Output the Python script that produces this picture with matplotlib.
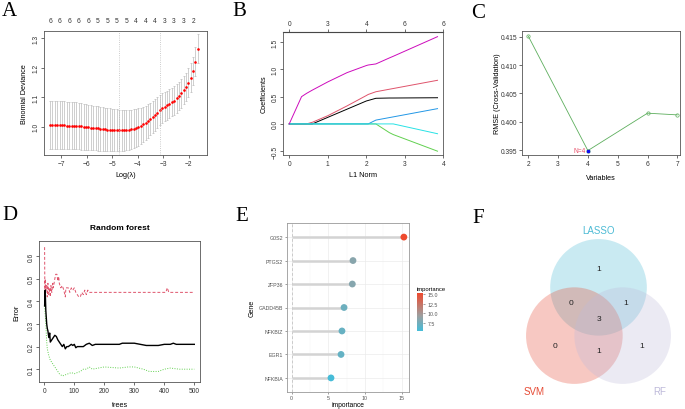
import numpy as np
import matplotlib.pyplot as plt
import matplotlib as mpl
from matplotlib.patches import Circle
from matplotlib.colors import LinearSegmentedColormap, Normalize

mpl.rcParams['font.family'] = ['Liberation Sans', 'DejaVu Sans']

#-------------
# A: LASSO cross-validation
#-------------
log_lambda = [-7.43, -7.34, -7.24, -7.15, -7.06, -6.96, -6.87, -6.78, -6.68, -6.59,
              -6.50, -6.40, -6.31, -6.21, -6.12, -6.03, -5.93, -5.84, -5.75, -5.65,
              -5.56, -5.47, -5.37, -5.28, -5.19, -5.09, -5.00, -4.91, -4.81, -4.72,
              -4.63, -4.53, -4.44, -4.34, -4.25, -4.16, -4.06, -3.97, -3.88, -3.78,
              -3.69, -3.60, -3.50, -3.41, -3.32, -3.22, -3.13, -3.04, -2.94, -2.85,
              -2.76, -2.66, -2.57, -2.47, -2.38, -2.29, -2.19, -2.10, -2.01, -1.91,
              -1.82, -1.73, -1.63]
cv_mean = [1.006, 1.006, 1.006, 1.006, 1.005, 1.005, 1.005, 1.004, 1.004, 1.004,
           1.003, 1.003, 1.002, 1.001, 1.000, 0.999, 0.998, 0.997, 0.996, 0.995,
           0.994, 0.993, 0.992, 0.991, 0.990, 0.990, 0.989, 0.989, 0.988, 0.988,
           0.988, 0.988, 0.989, 0.990, 0.991, 0.993, 0.996, 0.999, 1.003, 1.008,
           1.013, 1.019, 1.026, 1.033, 1.040, 1.048, 1.056, 1.063, 1.068, 1.073,
           1.078, 1.083, 1.089, 1.096, 1.104, 1.113, 1.124, 1.136, 1.150, 1.167,
           1.190, 1.220, 1.265]
cv_sd = [0.081, 0.081, 0.081, 0.081, 0.081, 0.081, 0.081, 0.081, 0.081, 0.080,
         0.080, 0.080, 0.079, 0.079, 0.078, 0.078, 0.077, 0.077, 0.076, 0.075,
         0.075, 0.074, 0.074, 0.073, 0.073, 0.072, 0.072, 0.071, 0.071, 0.070,
         0.070, 0.069, 0.069, 0.068, 0.067, 0.066, 0.065, 0.063, 0.062, 0.060,
         0.058, 0.057, 0.055, 0.054, 0.053, 0.052, 0.051, 0.050, 0.050, 0.049,
         0.049, 0.048, 0.048, 0.048, 0.048, 0.048, 0.048, 0.048, 0.048, 0.048,
         0.048, 0.049, 0.050]
nz_top = [6, 6, 6, 6, 6, 5, 5, 5, 5, 4, 4, 4, 3, 3, 3, 2]
idx_min, idx_1se = 29, 46

#-------------
# B: coefficient paths
#-------------
l1_norm = [0, 0.32, 0.45, 0.60, 1.0, 1.5, 2.0, 2.05, 2.25, 2.60, 2.70, 3.85]
coef_paths = {
    '#000000': [0, 0, 0, 0, 0.12, 0.27, 0.42, 0.43, 0.47, 0.475, 0.475, 0.48],
    '#DF536B': [0, 0, 0, 0.03, 0.15, 0.33, 0.52, 0.54, 0.59, 0.636, 0.649, 0.80],
    '#61D04F': [0, 0, 0, 0, 0, 0, 0, 0, 0, -0.16, -0.195, -0.50],
    '#2297E6': [0, 0, 0, 0, 0, 0, 0, 0, 0.07, 0.116, 0.129, 0.28],
    '#28E2E5': [0, 0, 0, 0, 0, 0, 0, 0, 0, 0, 0, -0.18],
    '#CD0BBC': [0, 0.50, 0.56, 0.62, 0.77, 0.94, 1.07, 1.08, 1.10, 1.21, 1.24, 1.60],
}
top_l1 = [0, 1, 2, 3, 4]
top_nz = [0, 3, 4, 6, 6]

#-------------
# C: SVM-RFE
#-------------
n_vars = [2, 4, 6, 7]
rmse = [0.4151, 0.3949, 0.4015, 0.4012]

#-------------
# D: random forest error
#-------------
oob_trees = [1, 3, 5, 8, 10, 12, 15, 18, 20, 25, 30, 35, 40, 45, 50, 55, 60, 65, 70, 75,
             80, 90, 95, 100, 105, 110, 120, 130, 140, 150, 160, 170, 180, 200, 250, 260,
             300, 320, 340, 380, 400, 420, 430, 440, 500]
oob_err = [0.38, 0.45, 0.36, 0.30, 0.28, 0.27, 0.24, 0.26, 0.22, 0.23, 0.24, 0.25, 0.245,
           0.23, 0.22, 0.21, 0.20, 0.21, 0.19, 0.20, 0.20, 0.21, 0.205, 0.21, 0.195, 0.20,
           0.20, 0.20, 0.21, 0.215, 0.205, 0.21, 0.21, 0.21, 0.21, 0.215, 0.215, 0.21,
           0.205, 0.205, 0.21, 0.21, 0.215, 0.21, 0.21]
c1_trees = [1, 2, 3, 5, 8, 10, 12, 15, 18, 20, 22, 25, 28, 30, 35, 38, 42, 45, 48, 50,
            55, 60, 65, 70, 72, 80, 85, 90, 95, 100, 105, 110, 115, 120, 125, 130, 135,
            140, 145, 150, 405, 410, 415, 500]
c1_err = [0.64, 0.40, 0.50, 0.45, 0.47, 0.42, 0.48, 0.43, 0.46, 0.42, 0.47, 0.44, 0.48,
          0.46, 0.50, 0.52, 0.52, 0.49, 0.51, 0.48, 0.46, 0.47, 0.45, 0.42, 0.46, 0.46,
          0.44, 0.46, 0.45, 0.46, 0.44, 0.43, 0.42, 0.42, 0.44, 0.43, 0.45, 0.43, 0.45,
          0.44, 0.44, 0.46, 0.44, 0.44]
c2_trees = [1, 5, 8, 10, 15, 20, 25, 30, 40, 50, 60, 70, 80, 90, 100, 110, 120, 130, 140,
            150, 160, 180, 200, 250, 280, 300, 330, 350, 380, 400, 420, 450, 500]
c2_err = [0.38, 0.30, 0.22, 0.19, 0.16, 0.14, 0.13, 0.12, 0.10, 0.08, 0.07, 0.075, 0.08,
          0.085, 0.08, 0.085, 0.09, 0.10, 0.10, 0.11, 0.10, 0.105, 0.11, 0.105, 0.11,
          0.11, 0.10, 0.09, 0.09, 0.10, 0.105, 0.10, 0.10]

#-------------
# E: gene importance
#-------------
genes = ['G0S2', 'PTGS2', 'ZFP36', 'GADD45B', 'NFKBIZ', 'EGR1', 'NFKBIA']
importance = [15.3, 8.36, 8.27, 7.14, 6.86, 6.73, 5.36]

#-------------
# F: Venn counts
#-------------
venn_sets = ['LASSO', 'SVM', 'RF']
venn_counts = {'L': 1, 'LS': 0, 'LR': 1, 'LSR': 3, 'S': 0, 'SR': 1, 'R': 1}

W, H = 685, 410


def px_axes(fig, x0, y0, x1, y1):
    '''pixel box (top-left origin) -> figure axes'''
    return fig.add_axes([x0 / W, 1 - y1 / H, (x1 - x0) / W, (y1 - y0) / H])


def r_style(ax, rot_y=True):
    for s in ax.spines.values():
        s.set_linewidth(0.6)
        s.set_color('#555555')
    ax.tick_params(labelsize=4.8, length=2, width=0.5, colors='#333333', pad=1.5)
    if rot_y:
        for lab in ax.get_yticklabels():
            lab.set_rotation(90)
            lab.set_va('center')


def panel_letter(fig, x, y, letter):
    fig.text(x / W, 1 - y / H, letter, fontsize=15, family='Liberation Serif',
             va='top', ha='left')


def plot_a(fig):
    ax = px_axes(fig, 44.3, 32.3, 206.7, 156)
    ax.errorbar(log_lambda, cv_mean, yerr=cv_sd, fmt='none', ecolor='#BBBBBB',
                elinewidth=0.5, capsize=1.0, capthick=0.5)
    ax.plot(log_lambda, cv_mean, 'o', color='red', ms=1.9, mec='none')
    for i in (idx_min, idx_1se):
        ax.axvline(log_lambda[i], ls=':', color='#BBBBBB', lw=0.6)
    ax.set_xlim(-7.66, -1.29)
    ax.set_ylim(0.904, 1.324)
    ax.set_xticks([-7, -6, -5, -4, -3, -2])
    ax.set_yticks([1.0, 1.1, 1.2, 1.3])
    ax.set_xlabel('Log(λ)', fontsize=5.2, labelpad=3)
    ax.set_ylabel('Binomial Deviance', fontsize=5.2, labelpad=3)
    top = ax.secondary_xaxis('top')
    top.set_xticks(log_lambda[0::4], labels=[str(n) for n in nz_top])
    top.tick_params(length=0, labelsize=4.8, pad=5, colors='#333333')
    top.spines['top'].set_visible(False)
    r_style(ax)


def plot_b(fig):
    ax = px_axes(fig, 283.3, 33.3, 443.3, 156)
    for color, coefs in coef_paths.items():
        ax.plot(l1_norm, coefs, color=color, lw=0.7)
    ax.set_xlim(-0.154, 3.98)
    ax.set_ylim(-0.57, 1.68)
    ax.set_xticks([0, 1, 2, 3, 4])
    ax.set_yticks([-0.5, 0.0, 0.5, 1.0, 1.5])
    ax.set_xlabel('L1 Norm', fontsize=5.2, labelpad=3)
    ax.set_ylabel('Coefficients', fontsize=5.2, labelpad=3)
    top = ax.secondary_xaxis('top')
    top.set_xticks(top_l1, labels=[str(n) for n in top_nz])
    top.tick_params(length=2, width=0.5, labelsize=4.8, pad=1.5, colors='#333333')
    r_style(ax)


def plot_c(fig):
    ax = px_axes(fig, 522, 32.3, 680, 156)
    ax.plot(n_vars, rmse, color='#5DAE5D', lw=0.6, marker='o', ms=2.4,
            mfc='none', mec='#5DAE5D', mew=0.5)
    best = int(np.argmin(rmse))
    ax.plot(n_vars[best], rmse[best], 's', color='#1010EE', ms=2.0)
    ax.text(n_vars[best] - 0.08, rmse[best], f'N={n_vars[best]}', color='#E8506A',
            fontsize=4.8, ha='right', va='center')
    ax.set_xlim(1.79, 7.09)
    ax.set_ylim(0.39412, 0.41595)
    ax.set_xticks([2, 3, 4, 5, 6, 7])
    ax.set_yticks([0.395, 0.400, 0.405, 0.410, 0.415])
    ax.set_yticklabels(['0.395', '0.400', '0.405', '0.410', '0.415'])
    ax.set_xlabel('Variables', fontsize=5.2, labelpad=5)
    ax.set_ylabel('RMSE (Cross-Validation)', fontsize=5.2, labelpad=0)
    r_style(ax, rot_y=False)


def plot_d(fig):
    ax = px_axes(fig, 39.3, 242.3, 200, 383.3)
    ax.plot(c1_trees, c1_err, color='#DF536B', lw=0.7, ls=(0, (3, 2)))
    ax.plot(c2_trees, c2_err, color='#61D04F', lw=0.7, ls=(0, (1, 1.5)))
    ax.plot(oob_trees, oob_err, color='black', lw=1.0)
    ax.set_xlim(-16.7, 519)
    ax.set_ylim(0.042, 0.666)
    ax.set_xticks([0, 100, 200, 300, 400, 500])
    ax.set_yticks([0.1, 0.2, 0.3, 0.4, 0.5, 0.6])
    ax.set_xlabel('trees', fontsize=5.2, labelpad=5)
    ax.set_ylabel('Error', fontsize=5.2, labelpad=5)
    ax.set_title('Random forest', fontsize=6, fontweight='bold', pad=9)
    r_style(ax)


def plot_e(fig):
    ax = px_axes(fig, 286.7, 224, 409.3, 393)
    cmap = LinearSegmentedColormap.from_list(
        'imp', [(0.0, '#46BCD8'), (0.4, '#9E9E9E'), (1.0, '#EE4A2E')])
    norm = Normalize(vmin=min(importance), vmax=max(importance))
    ypos = np.arange(len(genes))[::-1] + 1
    ax.set_axisbelow(True)
    ax.set_xticks([2.5, 7.5, 12.5], minor=True)
    ax.grid(True, which='major', color='#EBEBEB', lw=0.5)
    ax.grid(True, which='minor', axis='x', color='#F4F4F4', lw=0.3)
    ax.axvline(0, color='#BBBBBB', ls=(0, (4, 3)), lw=0.5, zorder=1)
    ax.hlines(ypos, 0, importance, color='#D3D3D3', lw=1.8, zorder=2)
    sc = ax.scatter(importance, ypos, c=importance, cmap=cmap, norm=norm, s=24,
                    zorder=3, edgecolors='none')
    ax.set_xlim(-0.68, 16.04)
    ax.set_ylim(0.4, 7.6)
    ax.set_xticks([0, 5, 10, 15])
    ax.set_yticks(ypos, labels=genes)
    for s in ax.spines.values():
        s.set_color('#999999')
        s.set_linewidth(0.6)
    ax.tick_params(labelsize=3.8, length=1.5, width=0.4, colors='#555555', pad=1)
    ax.tick_params(which='minor', length=0)
    ax.set_xlabel('importance', fontsize=4.8, labelpad=0.5)
    ax.set_ylabel('Gene', fontsize=5, labelpad=2)

    cax = px_axes(fig, 416.7, 294, 423.3, 331.7)
    cb = fig.colorbar(sc, cax=cax, ticks=[7.5, 10.0, 12.5, 15.0])
    cb.outline.set_visible(False)
    cb.ax.set_yticklabels(['7.5', '10.0', '12.5', '15.0'])
    cb.ax.tick_params(labelsize=3.8, length=1.5, width=0.4, colors='#555555', pad=1.5)
    cb.ax.set_title('importance', fontsize=4.2, loc='left', pad=2)


def plot_f(fig):
    ax = px_axes(fig, 470, 200, 685, 410)
    ax.set_xlim(-2.66, 1.79)
    ax.set_ylim(-1.52, 2.83)
    ax.axis('off')
    fills = {'LASSO': '#4DBBD5', 'SVM': '#E64B35', 'RF': '#BEBADA'}
    centres = {'LASSO': (0, 1.0), 'SVM': (-0.5, 0), 'RF': (0.5, 0)}
    for name in venn_sets:
        ax.add_patch(Circle(centres[name], 1.0, color=fills[name], alpha=0.3, lw=0))
    spots = {'L': (0, 1.395), 'LS': (-0.57, 0.68), 'LR': (0.56, 0.68),
             'LSR': (0, 0.345), 'S': (-0.9, -0.21), 'SR': (0, -0.31), 'R': (0.89, -0.21)}
    for key, n in venn_counts.items():
        ax.text(*spots[key], str(n), fontsize=6, ha='center', va='center', color='#222222')
    label_spots = {'LASSO': (0, 2.19), 'SVM': (-1.33, -1.14), 'RF': (1.27, -1.14)}
    for name in venn_sets:
        ax.text(*label_spots[name], name, fontsize=7, color=fills[name],
                ha='center', va='center')


def main():
    fig = plt.figure(figsize=(W / 100, H / 100), dpi=100)
    plot_a(fig)
    plot_b(fig)
    plot_c(fig)
    plot_d(fig)
    plot_e(fig)
    plot_f(fig)
    panel_letter(fig, 2, 2, 'A')
    panel_letter(fig, 232, 2, 'B')
    panel_letter(fig, 471, 4, 'C')
    panel_letter(fig, 2, 206, 'D')
    panel_letter(fig, 235, 207, 'E')
    panel_letter(fig, 472, 209, 'F')
    fig.savefig('out.png', dpi=100)
    plt.close(fig)


if __name__ == '__main__':
    main()
